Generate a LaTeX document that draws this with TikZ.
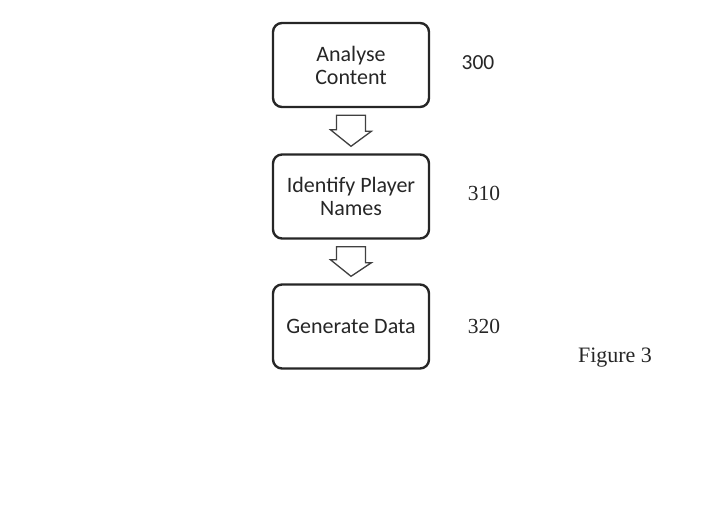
\documentclass[tikz,border=0pt]{standalone}
\usepackage{fontspec}
\setmainfont{Liberation Serif}
\newfontfamily\boxfont{Carlito}
\usetikzlibrary{positioning, calc}
\tikzset{
    step_box/.style={
        rectangle, rounded corners=9pt, draw=black!85, line width=2.4pt,
        minimum width=156pt, minimum height=84pt,
        align=center, font=\boxfont\fontsize{22}{23}\selectfont, text=black!85
    },
    hollow_arrow/.style={
        draw=black!75, line width=1.3pt, fill=white, line join=miter
    },
    ref_num/.style={
        font=\fontsize{21.5}{24}\selectfont, text=black!85
    }
}

\begin{document}
\begin{tikzpicture}
    \useasboundingbox (0,0) rectangle (709pt,522pt);

    % Steps
    \node[step_box] (analyse) at (351pt, 457pt) {Analyse\\Content};
    \node[step_box] (identify) at (351pt, 325.5pt) {Identify Player\\Names};
    \node[step_box] (generate) at (351pt, 195.5pt) {Generate Data};

    % Reference numbers
    \node[ref_num, font=\boxfont\fontsize{21.5}{24}\selectfont] (n300) at (478pt, 459pt) {300};
    \node[ref_num] (n310) at (484pt, 329pt) {310};
    \node[ref_num] (n320) at (484pt, 196pt) {320};
    \node[ref_num, font=\fontsize{22}{24}\selectfont] (fig) at (615pt, 164pt) {Figure 3};

    % Block arrows
    \foreach \srcbox/\dstbox in {analyse/identify, identify/generate}
        \draw[hollow_arrow] ($(\srcbox.south)+(-14.5pt,-7pt)$) -- ++(29pt,0) -- ++(0,-16pt)
            -- ++(6pt,0) -- ($(\dstbox.north)+(0,7pt)$) -- ++(-20.5pt,16.5pt) -- ++(6pt,0) -- cycle;
\end{tikzpicture}
\end{document}
